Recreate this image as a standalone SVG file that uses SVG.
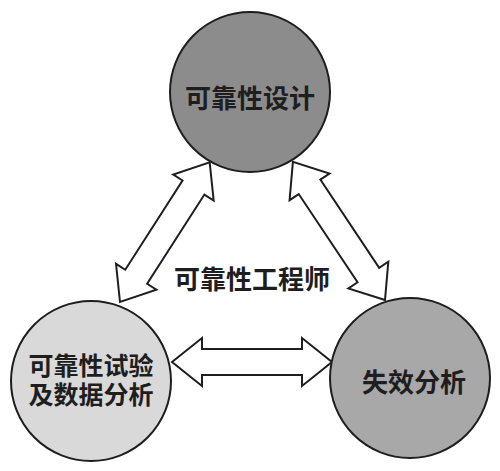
<svg xmlns="http://www.w3.org/2000/svg" width="500" height="471" viewBox="0 0 500 471">
<style>
.node{stroke:#1e1e1e;stroke-width:2}
.arr{fill:#fff;stroke:#1e1e1e;stroke-width:2;stroke-linejoin:miter}
text{font-family:"Noto Sans CJK SC","Noto Sans CJK TC",sans-serif;font-weight:bold;font-size:26px;fill:#1e1e1e;text-anchor:middle;dominant-baseline:central}
text.two{font-family:"Liberation Sans","Noto Sans CJK SC",sans-serif;font-size:25px}
</style>
<defs>
<polygon id="dbl166" points="0,0 30,-24 30,-13 136,-13 136,-24 166,0 136,24 136,13 30,13 30,24"/>
</defs>
<rect width="500" height="471" fill="#fff"/>
<g id="connectors">
<polygon class="arr" points="0,0 30,-24 30,-13 130,-13 130,-24 160,0 130,24 130,13 30,13 30,24" transform="translate(172,362)"/>
<use href="#dbl166" class="arr" transform="translate(120,302) rotate(-57.3)"/>
<use href="#dbl166" class="arr" transform="translate(385,300) rotate(-123.7)"/>
</g>
<g id="design">
<circle class="node" cx="250" cy="92" r="80" fill="#8c8c8c"/>
<text x="250" y="96">可靠性设计</text>
</g>
<g id="test">
<circle class="node" cx="91" cy="381" r="80" fill="#d9d9d9"/>
<text class="two" x="91" y="366">可靠性试验</text>
<text class="two" x="91" y="395">及数据分析</text>
</g>
<g id="failure">
<circle class="node" cx="410" cy="378" r="80" fill="#a8a8a8"/>
<text x="414" y="380">失效分析</text>
</g>
<g id="engineer">
<text x="252" y="277">可靠性工程师</text>
</g>
</svg>
